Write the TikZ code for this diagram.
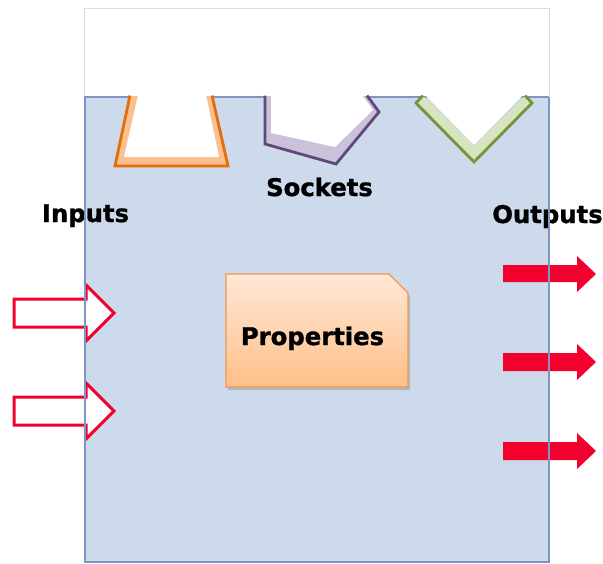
\documentclass[tikz,border=0pt]{standalone}
\usepackage{fontspec}
\setmainfont{DejaVu Sans}[BoldFeatures={FakeBold=1.2}]
\definecolor{boxblue}{HTML}{CCDAEB}
\definecolor{boxedge}{HTML}{7F95C2}
\definecolor{topedge}{HTML}{DCDCDC}
\definecolor{ordark}{HTML}{E46C0A}
\definecolor{orlight}{HTML}{FAC090}
\definecolor{pudark}{HTML}{5F497A}
\definecolor{pulight}{HTML}{CCC1DA}
\definecolor{grdark}{HTML}{77933C}
\definecolor{grlight}{HTML}{D7E4BD}
\definecolor{arrowred}{HTML}{F2002E}
\definecolor{proptop}{HTML}{FFE8D8}
\definecolor{propbot}{HTML}{FFBF88}
\definecolor{propedge}{HTML}{F79646}
\tikzset{
  lbl/.style={font=\fontsize{24.3}{29}\selectfont\bfseries, inner sep=0pt, anchor=base},
  inarrow/.style={draw=arrowred, fill=white, line width=3pt, line join=miter},
  outarrow/.style={fill=arrowred},
  sockline/.style={line width=2.8pt, line join=miter},
}
\begin{document}
\begin{tikzpicture}[x=1pt,y=-1pt]
\useasboundingbox (0,0) rectangle (603,563);
\fill[white] (0,0) rectangle (603,563);

% component body
\fill[boxblue] (85,97) rectangle (549,562);
\draw[boxedge, line width=2.6pt] (84,97) -- (549,97);

% open area above the body
\draw[topedge, line width=1pt] (84,96) -- (84,8) -- (549,8) -- (549,96);

% orange socket
\fill[orlight] (130,96) -- (115,166) -- (228,166) -- (212,96) -- cycle;
\fill[white] (138,95) -- (124,157) -- (219,157) -- (206,95) -- cycle;
\draw[ordark, sockline] (130,95.5) -- (115,166) -- (228,166) -- (212,95.5);

% purple socket
\fill[pulight] (265,96) -- (265,144) -- (336,164) -- (379,112) -- (367,96) -- cycle;
\fill[white] (271,95) -- (271,133) -- (335,147) -- (373,110) -- (362,95) -- cycle;
\draw[pudark, sockline] (265,95.5) -- (265,144) -- (336,164) -- (379,112) -- (367,95.5);

% green socket
\fill[grlight] (423,96) -- (416,103) -- (474,162) -- (532,103) -- (525,96)
  -- (474,146) -- cycle;
\fill[white] (425,95) -- (474,145) -- (523,95) -- cycle;
\draw[grdark, sockline] (423,95.5) -- (416,103) -- (474,162) -- (532,103) -- (525,95.5);

% properties block
\fill[black, opacity=0.15] (228,277) -- (391,277) -- (410,296) -- (410,390) -- (228,390) -- cycle;
\shade[top color=proptop, bottom color=propbot, draw=propedge, line width=1.3pt]
  (226,274) -- (389,274) -- (408,293) -- (408,387) -- (226,387) -- cycle;
\node[lbl] (props) at (312.5,345) {Properties};

% input arrows
\draw[inarrow] (14,299) -- (86,299) -- (86,285) -- (114,313) -- (86,341) -- (86,327) -- (14,327) -- cycle;
\draw[inarrow] (14,397) -- (86,397) -- (86,383) -- (114,411) -- (86,439) -- (86,425) -- (14,425) -- cycle;

% output arrows
\fill[outarrow] (503,265) -- (577,265) -- (577,256) -- (596,274) -- (577,292) -- (577,282) -- (503,282) -- cycle;
\fill[outarrow] (503,353) -- (577,353) -- (577,344) -- (596,362) -- (577,380) -- (577,371) -- (503,371) -- cycle;
\fill[outarrow] (503,442) -- (577,442) -- (577,433) -- (596,451) -- (577,469) -- (577,460) -- (503,460) -- cycle;

% labels
\node[lbl] (sockets) at (319.5,196) {Sockets};
\node[lbl] (inputs) at (85.5,222) {Inputs};
\node[lbl] (outputs) at (547.5,223) {Outputs};

% body outline on the sides and bottom
\draw[boxedge, line width=2.6pt] (85,97) -- (85,562) -- (549,562) -- (549,97);
\end{tikzpicture}
\end{document}
